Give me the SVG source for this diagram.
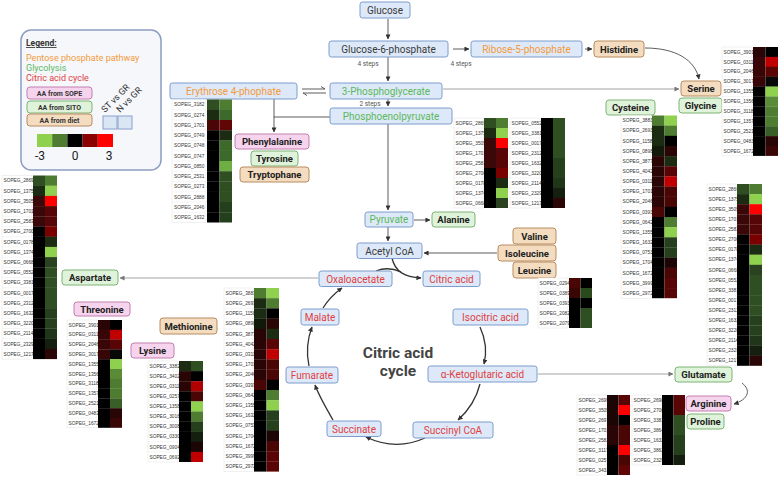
<svg xmlns="http://www.w3.org/2000/svg" width="778" height="477" viewBox="0 0 778 477">
<defs>
<marker id="ah" viewBox="0 0 6 6" refX="5.5" refY="3" markerUnits="userSpaceOnUse" markerWidth="5" markerHeight="5" orient="auto"><path d="M0,0 L6,3 L0,6 Z" fill="#333"/></marker>
<marker id="ahg" viewBox="0 0 6 6" refX="5.5" refY="3" markerUnits="userSpaceOnUse" markerWidth="5" markerHeight="5" orient="auto"><path d="M0,0 L6,3 L0,6 Z" fill="#777"/></marker>
</defs>
<style>
.n{fill:#dde9f8;stroke:#7d9ccc;stroke-width:1}
.t{font-family:Roboto,"Liberation Sans",sans-serif;font-size:10px;text-anchor:middle}
.dk{fill:#3a3a3a}.gl{fill:#5cb85c}.pp{fill:#f39a3c}.ca{fill:#e0403f}
.ap{fill:#f7d4ee;stroke:#c27fb0;stroke-width:1}
.ag{fill:#dff2da;stroke:#7fb475;stroke-width:1}
.ad{fill:#f3dcc0;stroke:#b98c5e;stroke-width:1}
.ab{font-family:Roboto,"Liberation Sans",sans-serif;font-weight:bold;font-size:9.5px;fill:#222;text-anchor:middle}
.hm text{font-family:"Liberation Sans",Arial,sans-serif;font-size:4.8px;fill:#333}
.lc{fill:#fff;stroke:#e2e2e2;stroke-width:0.5}
.gd{fill:none;stroke:#e6e6e6;stroke-width:0.4}
.c{fill:none;stroke:#333;stroke-width:0.8}
.cg{fill:none;stroke:#999;stroke-width:0.9}
.cy{fill:none;stroke:#333;stroke-width:1.3}
.st{font-family:Roboto,"Liberation Sans",sans-serif;font-size:6.5px;fill:#555;text-anchor:middle}
.lg{font-family:Roboto,"Liberation Sans",sans-serif;font-size:9px}
.pl{font-family:Roboto,"Liberation Sans",sans-serif;font-size:7px;font-weight:bold;fill:#333;text-anchor:middle}
.sc{font-family:Roboto,"Liberation Sans",sans-serif;font-size:12px;fill:#222;text-anchor:middle}
</style>
<rect width="778" height="477" fill="#fff"/>

<!-- Legend -->
<g id="legend">
<rect x="21" y="30" width="140" height="140" rx="10" fill="#f5f7fb" stroke="#8b9dc3" stroke-width="1.5"/>
<text x="26" y="46" class="lg" style="font-weight:bold;font-size:8.5px;text-decoration:underline" fill="#333">Legend:</text>
<text x="26" y="61" class="lg pp">Pentose phosphate pathway</text>
<text x="26" y="71" class="lg gl">Glycolysis</text>
<text x="26" y="81" class="lg ca">Citric acid cycle</text>
<rect x="27" y="87" width="65" height="12" rx="3" class="ap"/><text x="59.5" y="95.5" class="pl">AA from SOPE</text>
<rect x="27" y="101" width="65" height="12" rx="3" class="ag"/><text x="59.5" y="109.5" class="pl">AA from SITO</text>
<rect x="27" y="114" width="65" height="12" rx="3" class="ad"/><text x="59.5" y="122.5" class="pl">AA from diet</text>
<text transform="translate(105,113) rotate(-45)" class="lg" fill="#333">ST vs GR</text>
<text transform="translate(120,113) rotate(-45)" class="lg" fill="#333">N vs GR</text>
<rect x="103" y="116" width="14" height="13" fill="#dbe6f5" stroke="#8aa0cc" stroke-width="1"/>
<rect x="118" y="116" width="14" height="13" fill="#dbe6f5" stroke="#8aa0cc" stroke-width="1"/>
<rect x="37" y="134" width="15.2" height="13" fill="#8fd14f"/>
<rect x="52.2" y="134" width="15.2" height="13" fill="#4e7d32"/>
<rect x="67.4" y="134" width="15.2" height="13" fill="#000"/>
<rect x="82.6" y="134" width="15.2" height="13" fill="#8b0000"/>
<rect x="97.8" y="134" width="15.2" height="13" fill="#ff0000"/>
<text x="40" y="160" class="sc">-3</text>
<text x="75" y="160" class="sc">0</text>
<text x="109" y="160" class="sc">3</text>
</g>

<!-- Connectors -->
<g id="connectors">
<path class="c" d="M388,19 V39" marker-end="url(#ah)"/>
<path class="c" d="M388,57 V81" marker-end="url(#ah)"/>
<path class="c" d="M453,49 H469" marker-end="url(#ah)"/>
<path class="c" d="M585,49 H592" marker-end="url(#ah)"/>
<path class="c" d="M645,48 C676,48 695,60 699,79" stroke="#666" marker-end="url(#ah)"/>
<path class="c" d="M302,89 H325 M321,86.5 L325,89"/>
<path class="c" d="M326,93 H303 M307,95.5 L303,93"/>
<path class="cg" d="M443,89 H679" marker-end="url(#ahg)"/>
<path class="c" d="M388,99 V106" marker-end="url(#ah)"/>
<path class="c" d="M330,117 H274 V132" marker-end="url(#ah)"/>
<path class="c" d="M274,99 V117"/>
<path class="c" d="M388,124 V210" marker-end="url(#ah)"/>
<path class="c" d="M414,220 H430" marker-end="url(#ah)"/>
<path class="c" d="M388,227 V241" marker-end="url(#ah)"/>
<path class="c" d="M497,253 H424" stroke="#666" marker-end="url(#ah)"/>
<path class="cy" d="M392,258 C395,272 405,277 421,278" marker-end="url(#ah)"/>
<path class="cy" d="M376,271 Q388,266 401,272"/>
<path class="cg" d="M318,278 H120" stroke="#bbb" marker-end="url(#ahg)"/>
<path class="cy" d="M480,327 C486,340 487,352 484,364" marker-end="url(#ah)"/>
<path class="cy" d="M480,384 C476,400 468,411 458,420" marker-end="url(#ah)"/>
<path class="cy" d="M425,438 C405,447 385,446 366,437" marker-end="url(#ah)"/>
<path class="cy" d="M333,420 C325,406 319,396 315,385" marker-end="url(#ah)"/>
<path class="cy" d="M309,366 C306,352 307,340 312,327" marker-end="url(#ah)"/>
<path class="cy" d="M323,308 C328,300 335,293 342,288" marker-end="url(#ah)"/>
<path class="cg" d="M538,374 H673" stroke="#aaa" marker-end="url(#ahg)"/>
<path class="c" d="M742,383 C751,390 749,399 734,404" marker-end="url(#ah)"/>
</g>
<text x="368" y="66" class="st">4 steps</text>
<text x="461" y="66" class="st">4 steps</text>
<text x="370" y="106" class="st">2 steps</text>

<!-- Pathway nodes -->
<g id="glucose"><rect x="360" y="2" width="50" height="16" rx="2.5" class="n"/><text x="385" y="13.5" class="t dk">Glucose</text></g>
<g id="g6p"><rect x="329" y="41" width="119" height="16" rx="2.5" class="n"/><text x="388.5" y="52.5" class="t dk">Glucose-6-phosphate</text></g>
<g id="r5p"><rect x="471" y="41" width="111" height="16" rx="2.5" class="n"/><text x="526.5" y="52.5" class="t pp">Ribose-5-phosphate</text></g>
<g id="e4p"><rect x="170" y="83" width="127" height="16" rx="2.5" class="n"/><text x="233.5" y="94.5" class="t pp">Erythrose 4-phophate</text></g>
<g id="pg3"><rect x="330" y="83" width="112" height="16" rx="2.5" class="n"/><text x="386" y="94.5" class="t gl">3-Phosphoglycerate</text></g>
<g id="pep"><rect x="330" y="108" width="122" height="16" rx="2.5" class="n"/><text x="391" y="119.5" class="t gl">Phosphoenolpyruvate</text></g>
<g id="pyruvate"><rect x="365" y="212" width="48" height="15" rx="2.5" class="n"/><text x="389" y="223" class="t gl">Pyruvate</text></g>
<g id="acetylcoa"><rect x="357" y="243" width="65" height="15.5" rx="2.5" class="n"/><text x="389.5" y="254.5" class="t dk">Acetyl CoA</text></g>
<g id="oxaloacetate"><rect x="319" y="271" width="73" height="15.5" rx="2.5" class="n"/><text x="355.5" y="282.5" class="t ca">Oxaloacetate</text></g>
<g id="citric"><rect x="423" y="271" width="57" height="15.5" rx="2.5" class="n"/><text x="451.5" y="282.5" class="t ca">Citric acid</text></g>
<g id="malate"><rect x="301" y="309" width="38" height="16" rx="2.5" class="n"/><text x="320" y="320.5" class="t ca">Malate</text></g>
<g id="isocitric"><rect x="453" y="309" width="75" height="16" rx="2.5" class="n"/><text x="490.5" y="320.5" class="t ca">Isocitric acid</text></g>
<g id="fumarate"><rect x="286" y="367" width="52" height="16" rx="2.5" class="n"/><text x="312" y="378.5" class="t ca">Fumarate</text></g>
<g id="akg"><rect x="428" y="366" width="109" height="16" rx="2.5" class="n"/><text x="482.5" y="377.5" class="t ca">α-Ketoglutaric acid</text></g>
<g id="succinate"><rect x="327" y="421" width="54" height="15.5" rx="2.5" class="n"/><text x="354" y="432.5" class="t ca">Succinate</text></g>
<g id="succinylcoa"><rect x="413" y="422" width="80" height="16" rx="2.5" class="n"/><text x="453" y="433.5" class="t ca">Succinyl CoA</text></g>
<g id="cycle-label"><text x="398" y="358" class="t" style="font-weight:bold;font-size:15.5px;fill:#444">Citric acid</text><text x="398" y="376" class="t" style="font-weight:bold;font-size:15.5px;fill:#444">cycle</text></g>

<!-- Amino acid nodes -->
<g id="histidine"><rect x="594" y="41" width="50" height="16" rx="3" class="ad"/><text x="619" y="52.5" class="ab">Histidine</text></g>
<g id="serine"><rect x="681" y="81" width="40" height="15" rx="3" class="ad"/><text x="701" y="92" class="ab">Serine</text></g>
<g id="glycine"><rect x="679" y="98" width="43" height="15" rx="3" class="ag"/><text x="700.5" y="109" class="ab">Glycine</text></g>
<g id="cysteine"><rect x="606" y="100" width="49" height="15" rx="3" class="ag"/><text x="630.5" y="111" class="ab">Cysteine</text></g>
<g id="phenylalanine"><rect x="235" y="134" width="74" height="15" rx="3" class="ap"/><text x="272" y="145" class="ab">Phenylalanine</text></g>
<g id="tyrosine"><rect x="251" y="151" width="47" height="15" rx="3" class="ag"/><text x="274.5" y="162" class="ab">Tyrosine</text></g>
<g id="tryptophane"><rect x="240" y="167" width="69" height="15" rx="3" class="ad"/><text x="274.5" y="178" class="ab">Tryptophane</text></g>
<g id="alanine"><rect x="432" y="212" width="43" height="15" rx="3" class="ag"/><text x="453.5" y="223" class="ab">Alanine</text></g>
<g id="valine"><rect x="513" y="228" width="43" height="16" rx="3" class="ad"/><text x="534.5" y="239.5" class="ab">Valine</text></g>
<g id="isoleucine"><rect x="498" y="245" width="58" height="16" rx="3" class="ad"/><text x="527" y="256.5" class="ab">Isoleucine</text></g>
<g id="leucine"><rect x="513" y="262" width="43" height="16" rx="3" class="ad"/><text x="534.5" y="273.5" class="ab">Leucine</text></g>
<g id="aspartate"><rect x="62" y="270" width="56" height="15" rx="3" class="ag"/><text x="90" y="281" class="ab">Aspartate</text></g>
<g id="threonine"><rect x="74" y="302" width="56" height="14" rx="3" class="ap"/><text x="102" y="312.5" class="ab">Threonine</text></g>
<g id="methionine"><rect x="160" y="318" width="57" height="16" rx="3" class="ad"/><text x="188.5" y="329.5" class="ab">Methionine</text></g>
<g id="lysine"><rect x="131" y="343" width="43" height="15" rx="3" class="ap"/><text x="152.5" y="354" class="ab">Lysine</text></g>
<g id="glutamate"><rect x="675" y="367" width="57" height="15" rx="3" class="ag"/><text x="703.5" y="378" class="ab">Glutamate</text></g>
<g id="arginine"><rect x="686" y="396" width="45" height="15" rx="3" class="ap"/><text x="708.5" y="407" class="ab">Arginine</text></g>
<g id="proline"><rect x="687" y="414" width="37" height="15" rx="3" class="ag"/><text x="705.5" y="425" class="ab">Proline</text></g>

<!-- Heatmaps -->
<g id="hm-erythrose" class="hm" transform="translate(172,99.5) scale(1,1.025)">
<rect class="lc" x="0" y="0" width="34" height="120"/>
<path class="gd" d="M0,10H34M0,20H34M0,30H34M0,40H34M0,50H34M0,60H34M0,70H34M0,80H34M0,90H34M0,100H34M0,110H34"/>
<text x="2" y="6.7">SOPEG_3182</text><rect x="35" y="0" width="12.5" height="10.2" fill="#2f4f22"/><rect x="47.5" y="0" width="12.5" height="10.2" fill="#4e7d32"/>
<text x="2" y="16.7">SOPEG_0274</text><rect x="35" y="10" width="12.5" height="10.2" fill="#1c2c12"/><rect x="47.5" y="10" width="12.5" height="10.2" fill="#3d6a2a"/>
<text x="2" y="26.7">SOPEG_1701</text><rect x="35" y="20" width="12.5" height="10.2" fill="#4a0606"/><rect x="47.5" y="20" width="12.5" height="10.2" fill="#600606"/>
<text x="2" y="36.7">SOPEG_0749</text><rect x="35" y="30" width="12.5" height="10.2" fill="#000"/><rect x="47.5" y="30" width="12.5" height="10.2" fill="#1c2c12"/>
<text x="2" y="46.7">SOPEG_0748</text><rect x="35" y="40" width="12.5" height="10.2" fill="#000"/><rect x="47.5" y="40" width="12.5" height="10.2" fill="#3d6a2a"/>
<text x="2" y="56.7">SOPEG_0747</text><rect x="35" y="50" width="12.5" height="10.2" fill="#000"/><rect x="47.5" y="50" width="12.5" height="10.2" fill="#3d6a2a"/>
<text x="2" y="66.7">SOPEG_0850</text><rect x="35" y="60" width="12.5" height="10.2" fill="#000"/><rect x="47.5" y="60" width="12.5" height="10.2" fill="#6fae44"/>
<text x="2" y="76.7">SOPEG_2531</text><rect x="35" y="70" width="12.5" height="10.2" fill="#000"/><rect x="47.5" y="70" width="12.5" height="10.2" fill="#2f4f22"/>
<text x="2" y="86.7">SOPEG_0273</text><rect x="35" y="80" width="12.5" height="10.2" fill="#000"/><rect x="47.5" y="80" width="12.5" height="10.2" fill="#2f4f22"/>
<text x="2" y="96.7">SOPEG_2888</text><rect x="35" y="90" width="12.5" height="10.2" fill="#000"/><rect x="47.5" y="90" width="12.5" height="10.2" fill="#2f4f22"/>
<text x="2" y="106.7">SOPEG_2046</text><rect x="35" y="100" width="12.5" height="10.2" fill="#000"/><rect x="47.5" y="100" width="12.5" height="10.2" fill="#243f1c"/>
<text x="2" y="116.7">SOPEG_1632</text><rect x="35" y="110" width="12.5" height="10" fill="#000"/><rect x="47.5" y="110" width="12.5" height="10" fill="#243f1c"/>
</g>

<g id="hm-pep-a" class="hm" transform="translate(454,118)">
<rect class="lc" x="0" y="0" width="29" height="90"/>
<path class="gd" d="M0,10H29M0,20H29M0,30H29M0,40H29M0,50H29M0,60H29M0,70H29M0,80H29"/>
<text x="1.5" y="6.7">SOPEG_2869</text><rect x="30" y="0" width="12" height="10.2" fill="#2f4f22"/><rect x="42" y="0" width="12" height="10.2" fill="#4e7d32"/>
<text x="1.5" y="16.7">SOPEG_1375</text><rect x="30" y="10" width="12" height="10.2" fill="#1c2c12"/><rect x="42" y="10" width="12" height="10.2" fill="#8fd14f"/>
<text x="1.5" y="26.7">SOPEG_3505</text><rect x="30" y="20" width="12" height="10.2" fill="#3a0808"/><rect x="42" y="20" width="12" height="10.2" fill="#ff0000"/>
<text x="1.5" y="36.7">SOPEG_1701</text><rect x="30" y="30" width="12" height="10.2" fill="#3a0808"/><rect x="42" y="30" width="12" height="10.2" fill="#560606"/>
<text x="1.5" y="46.7">SOPEG_2583</text><rect x="30" y="40" width="12" height="10.2" fill="#3a0808"/><rect x="42" y="40" width="12" height="10.2" fill="#560606"/>
<text x="1.5" y="56.7">SOPEG_2700</text><rect x="30" y="50" width="12" height="10.2" fill="#000"/><rect x="42" y="50" width="12" height="10.2" fill="#7a0000"/>
<text x="1.5" y="66.7">SOPEG_0178</text><rect x="30" y="60" width="12" height="10.2" fill="#000"/><rect x="42" y="60" width="12" height="10.2" fill="#1c2c12"/>
<text x="1.5" y="76.7">SOPEG_1374</text><rect x="30" y="70" width="12" height="10.2" fill="#000"/><rect x="42" y="70" width="12" height="10.2" fill="#8fd14f"/>
<text x="1.5" y="86.7">SOPEG_0668</text><rect x="30" y="80" width="12" height="10" fill="#000"/><rect x="42" y="80" width="12" height="10" fill="#2a4220"/>
</g>
<g id="hm-pep-b" class="hm" transform="translate(510,118)">
<rect class="lc" x="0" y="0" width="30" height="90"/>
<path class="gd" d="M0,10H30M0,20H30M0,30H30M0,40H30M0,50H30M0,60H30M0,70H30M0,80H30"/>
<text x="1.5" y="6.7">SOPEG_0552</text><rect x="31" y="0" width="12" height="10.2" fill="#000"/><rect x="43" y="0" width="12" height="10.2" fill="#2f4f22"/>
<text x="1.5" y="16.7">SOPEG_3381</text><rect x="31" y="10" width="12" height="10.2" fill="#000"/><rect x="43" y="10" width="12" height="10.2" fill="#2f4f22"/>
<text x="1.5" y="26.7">SOPEG_0017</text><rect x="31" y="20" width="12" height="10.2" fill="#000"/><rect x="43" y="20" width="12" height="10.2" fill="#2f4f22"/>
<text x="1.5" y="36.7">SOPEG_2312</text><rect x="31" y="30" width="12" height="10.2" fill="#000"/><rect x="43" y="30" width="12" height="10.2" fill="#2f4f22"/>
<text x="1.5" y="46.7">SOPEG_1632</text><rect x="31" y="40" width="12" height="10.2" fill="#000"/><rect x="43" y="40" width="12" height="10.2" fill="#263f1d"/>
<text x="1.5" y="56.7">SOPEG_3220</text><rect x="31" y="50" width="12" height="10.2" fill="#000"/><rect x="43" y="50" width="12" height="10.2" fill="#263f1d"/>
<text x="1.5" y="66.7">SOPEG_2114</text><rect x="31" y="60" width="12" height="10.2" fill="#000"/><rect x="43" y="60" width="12" height="10.2" fill="#203618"/>
<text x="1.5" y="76.7">SOPEG_2329</text><rect x="31" y="70" width="12" height="10.2" fill="#000"/><rect x="43" y="70" width="12" height="10.2" fill="#151f10"/>
<text x="1.5" y="86.7">SOPEG_1217</text><rect x="31" y="80" width="12" height="10" fill="#000"/><rect x="43" y="80" width="12" height="10" fill="#2a0606"/>
</g>

<g id="hm-serine" class="hm" transform="translate(722,47) scale(1,0.99)">
<rect class="lc" x="0" y="0" width="30" height="110"/>
<path class="gd" d="M0,10H30M0,20H30M0,30H30M0,40H30M0,50H30M0,60H30M0,70H30M0,80H30M0,90H30M0,100H30"/>
<text x="1.5" y="6.7">SOPEG_3901</text><rect x="31" y="0" width="12.5" height="10.2" fill="#2a0505"/><rect x="43.5" y="0" width="12.5" height="10.2" fill="#000"/>
<text x="1.5" y="16.7">SOPEG_0311</text><rect x="31" y="10" width="12.5" height="10.2" fill="#380606"/><rect x="43.5" y="10" width="12.5" height="10.2" fill="#c00000"/>
<text x="1.5" y="26.7">SOPEG_2046</text><rect x="31" y="20" width="12.5" height="10.2" fill="#380606"/><rect x="43.5" y="20" width="12.5" height="10.2" fill="#5a0505"/>
<text x="1.5" y="36.7">SOPEG_3017</text><rect x="31" y="30" width="12.5" height="10.2" fill="#380606"/><rect x="43.5" y="30" width="12.5" height="10.2" fill="#080808"/>
<text x="1.5" y="46.7">SOPEG_1355</text><rect x="31" y="40" width="12.5" height="10.2" fill="#000"/><rect x="43.5" y="40" width="12.5" height="10.2" fill="#8fd14f"/>
<text x="1.5" y="56.7">SOPEG_1356</text><rect x="31" y="50" width="12.5" height="10.2" fill="#000"/><rect x="43.5" y="50" width="12.5" height="10.2" fill="#5a8c38"/>
<text x="1.5" y="66.7">SOPEG_3118</text><rect x="31" y="60" width="12.5" height="10.2" fill="#000"/><rect x="43.5" y="60" width="12.5" height="10.2" fill="#4e7d32"/>
<text x="1.5" y="76.7">SOPEG_1357</text><rect x="31" y="70" width="12.5" height="10.2" fill="#000"/><rect x="43.5" y="70" width="12.5" height="10.2" fill="#4e7d32"/>
<text x="1.5" y="86.7">SOPEG_2521</text><rect x="31" y="80" width="12.5" height="10.2" fill="#000"/><rect x="43.5" y="80" width="12.5" height="10.2" fill="#3a5e28"/>
<text x="1.5" y="96.7">SOPEG_0483</text><rect x="31" y="90" width="12.5" height="10.2" fill="#000"/><rect x="43.5" y="90" width="12.5" height="10.2" fill="#2a0505"/>
<text x="1.5" y="106.7">SOPEG_1672</text><rect x="31" y="100" width="12.5" height="10" fill="#000"/><rect x="43.5" y="100" width="12.5" height="10" fill="#3a0505"/>
</g>

<g id="hm-threonine" class="hm" transform="translate(67,320) scale(1,0.98)">
<rect class="lc" x="0" y="0" width="30" height="110"/>
<path class="gd" d="M0,10H30M0,20H30M0,30H30M0,40H30M0,50H30M0,60H30M0,70H30M0,80H30M0,90H30M0,100H30"/>
<text x="1.5" y="6.7">SOPEG_3901</text><rect x="31" y="0" width="12" height="10.2" fill="#2a0505"/><rect x="43" y="0" width="12" height="10.2" fill="#000"/>
<text x="1.5" y="16.7">SOPEG_0311</text><rect x="31" y="10" width="12" height="10.2" fill="#380606"/><rect x="43" y="10" width="12" height="10.2" fill="#c00000"/>
<text x="1.5" y="26.7">SOPEG_2046</text><rect x="31" y="20" width="12" height="10.2" fill="#380606"/><rect x="43" y="20" width="12" height="10.2" fill="#5a0505"/>
<text x="1.5" y="36.7">SOPEG_3017</text><rect x="31" y="30" width="12" height="10.2" fill="#380606"/><rect x="43" y="30" width="12" height="10.2" fill="#080808"/>
<text x="1.5" y="46.7">SOPEG_1355</text><rect x="31" y="40" width="12" height="10.2" fill="#000"/><rect x="43" y="40" width="12" height="10.2" fill="#8fd14f"/>
<text x="1.5" y="56.7">SOPEG_1356</text><rect x="31" y="50" width="12" height="10.2" fill="#000"/><rect x="43" y="50" width="12" height="10.2" fill="#5a8c38"/>
<text x="1.5" y="66.7">SOPEG_3118</text><rect x="31" y="60" width="12" height="10.2" fill="#000"/><rect x="43" y="60" width="12" height="10.2" fill="#4e7d32"/>
<text x="1.5" y="76.7">SOPEG_1357</text><rect x="31" y="70" width="12" height="10.2" fill="#000"/><rect x="43" y="70" width="12" height="10.2" fill="#4e7d32"/>
<text x="1.5" y="86.7">SOPEG_2521</text><rect x="31" y="80" width="12" height="10.2" fill="#000"/><rect x="43" y="80" width="12" height="10.2" fill="#3a5e28"/>
<text x="1.5" y="96.7">SOPEG_0483</text><rect x="31" y="90" width="12" height="10.2" fill="#000"/><rect x="43" y="90" width="12" height="10.2" fill="#2a0505"/>
<text x="1.5" y="106.7">SOPEG_1672</text><rect x="31" y="100" width="12" height="10" fill="#000"/><rect x="43" y="100" width="12" height="10" fill="#3a0505"/>
</g>

<g id="hm-cysteine" class="hm" transform="translate(621,115.5) scale(1,1.015)">
<rect class="lc" x="0" y="0" width="30" height="180"/>
<path class="gd" d="M0,10H30M0,20H30M0,30H30M0,40H30M0,50H30M0,60H30M0,70H30M0,80H30M0,90H30M0,100H30M0,110H30M0,120H30M0,130H30M0,140H30M0,150H30M0,160H30M0,170H30"/>
<text x="1.5" y="6.7">SOPEG_3883</text><rect x="31" y="0" width="12.5" height="10.2" fill="#4e7d32"/><rect x="43.5" y="0" width="12.5" height="10.2" fill="#8fd14f"/>
<text x="1.5" y="16.7">SOPEG_2693</text><rect x="31" y="10" width="12.5" height="10.2" fill="#1c2c12"/><rect x="43.5" y="10" width="12.5" height="10.2" fill="#4e7d32"/>
<text x="1.5" y="26.7">SOPEG_1158</text><rect x="31" y="20" width="12.5" height="10.2" fill="#1c2c12"/><rect x="43.5" y="20" width="12.5" height="10.2" fill="#000"/>
<text x="1.5" y="36.7">SOPEG_0898</text><rect x="31" y="30" width="12.5" height="10.2" fill="#111a0a"/><rect x="43.5" y="30" width="12.5" height="10.2" fill="#2a0505"/>
<text x="1.5" y="46.7">SOPEG_3877</text><rect x="31" y="40" width="12.5" height="10.2" fill="#2a0505"/><rect x="43.5" y="40" width="12.5" height="10.2" fill="#1c2c12"/>
<text x="1.5" y="56.7">SOPEG_4042</text><rect x="31" y="50" width="12.5" height="10.2" fill="#2a0505"/><rect x="43.5" y="50" width="12.5" height="10.2" fill="#5a0505"/>
<text x="1.5" y="66.7">SOPEG_0311</text><rect x="31" y="60" width="12.5" height="10.2" fill="#2a0505"/><rect x="43.5" y="60" width="12.5" height="10.2" fill="#c00000"/>
<text x="1.5" y="76.7">SOPEG_1701</text><rect x="31" y="70" width="12.5" height="10.2" fill="#2a0505"/><rect x="43.5" y="70" width="12.5" height="10.2" fill="#4a0505"/>
<text x="1.5" y="86.7">SOPEG_2046</text><rect x="31" y="80" width="12.5" height="10.2" fill="#2a0505"/><rect x="43.5" y="80" width="12.5" height="10.2" fill="#4a0505"/>
<text x="1.5" y="96.7">SOPEG_0393</text><rect x="31" y="90" width="12.5" height="10.2" fill="#4a0505"/><rect x="43.5" y="90" width="12.5" height="10.2" fill="#000"/>
<text x="1.5" y="106.7">SOPEG_0642</text><rect x="31" y="100" width="12.5" height="10.2" fill="#000"/><rect x="43.5" y="100" width="12.5" height="10.2" fill="#4e7d32"/>
<text x="1.5" y="116.7">SOPEG_1355</text><rect x="31" y="110" width="12.5" height="10.2" fill="#000"/><rect x="43.5" y="110" width="12.5" height="10.2" fill="#8fd14f"/>
<text x="1.5" y="126.7">SOPEG_1632</text><rect x="31" y="120" width="12.5" height="10.2" fill="#000"/><rect x="43.5" y="120" width="12.5" height="10.2" fill="#263f1d"/>
<text x="1.5" y="136.7">SOPEG_0753</text><rect x="31" y="130" width="12.5" height="10.2" fill="#000"/><rect x="43.5" y="130" width="12.5" height="10.2" fill="#263f1d"/>
<text x="1.5" y="146.7">SOPEG_1704</text><rect x="31" y="140" width="12.5" height="10.2" fill="#000"/><rect x="43.5" y="140" width="12.5" height="10.2" fill="#1c0505"/>
<text x="1.5" y="156.7">SOPEG_1672</text><rect x="31" y="150" width="12.5" height="10.2" fill="#000"/><rect x="43.5" y="150" width="12.5" height="10.2" fill="#4a0505"/>
<text x="1.5" y="166.7">SOPEG_3999</text><rect x="31" y="160" width="12.5" height="10.2" fill="#000"/><rect x="43.5" y="160" width="12.5" height="10.2" fill="#5a0505"/>
<text x="1.5" y="176.7">SOPEG_2972</text><rect x="31" y="170" width="12.5" height="10" fill="#000"/><rect x="43.5" y="170" width="12.5" height="10" fill="#5a0505"/>
</g>

<g id="hm-methionine" class="hm" transform="translate(224,288) scale(1,1.02)">
<rect class="lc" x="0" y="0" width="29" height="180"/>
<path class="gd" d="M0,10H29M0,20H29M0,30H29M0,40H29M0,50H29M0,60H29M0,70H29M0,80H29M0,90H29M0,100H29M0,110H29M0,120H29M0,130H29M0,140H29M0,150H29M0,160H29M0,170H29"/>
<text x="1.5" y="6.7">SOPEG_3883</text><rect x="30" y="0" width="12.5" height="10.2" fill="#4e7d32"/><rect x="42.5" y="0" width="12.5" height="10.2" fill="#8fd14f"/>
<text x="1.5" y="16.7">SOPEG_2693</text><rect x="30" y="10" width="12.5" height="10.2" fill="#1c2c12"/><rect x="42.5" y="10" width="12.5" height="10.2" fill="#4e7d32"/>
<text x="1.5" y="26.7">SOPEG_1158</text><rect x="30" y="20" width="12.5" height="10.2" fill="#1c2c12"/><rect x="42.5" y="20" width="12.5" height="10.2" fill="#000"/>
<text x="1.5" y="36.7">SOPEG_0898</text><rect x="30" y="30" width="12.5" height="10.2" fill="#111a0a"/><rect x="42.5" y="30" width="12.5" height="10.2" fill="#2a0505"/>
<text x="1.5" y="46.7">SOPEG_3877</text><rect x="30" y="40" width="12.5" height="10.2" fill="#2a0505"/><rect x="42.5" y="40" width="12.5" height="10.2" fill="#1c2c12"/>
<text x="1.5" y="56.7">SOPEG_4042</text><rect x="30" y="50" width="12.5" height="10.2" fill="#2a0505"/><rect x="42.5" y="50" width="12.5" height="10.2" fill="#5a0505"/>
<text x="1.5" y="66.7">SOPEG_0311</text><rect x="30" y="60" width="12.5" height="10.2" fill="#2a0505"/><rect x="42.5" y="60" width="12.5" height="10.2" fill="#c00000"/>
<text x="1.5" y="76.7">SOPEG_1701</text><rect x="30" y="70" width="12.5" height="10.2" fill="#2a0505"/><rect x="42.5" y="70" width="12.5" height="10.2" fill="#4a0505"/>
<text x="1.5" y="86.7">SOPEG_2046</text><rect x="30" y="80" width="12.5" height="10.2" fill="#2a0505"/><rect x="42.5" y="80" width="12.5" height="10.2" fill="#4a0505"/>
<text x="1.5" y="96.7">SOPEG_0393</text><rect x="30" y="90" width="12.5" height="10.2" fill="#4a0505"/><rect x="42.5" y="90" width="12.5" height="10.2" fill="#000"/>
<text x="1.5" y="106.7">SOPEG_0642</text><rect x="30" y="100" width="12.5" height="10.2" fill="#000"/><rect x="42.5" y="100" width="12.5" height="10.2" fill="#4e7d32"/>
<text x="1.5" y="116.7">SOPEG_1355</text><rect x="30" y="110" width="12.5" height="10.2" fill="#000"/><rect x="42.5" y="110" width="12.5" height="10.2" fill="#8fd14f"/>
<text x="1.5" y="126.7">SOPEG_1632</text><rect x="30" y="120" width="12.5" height="10.2" fill="#000"/><rect x="42.5" y="120" width="12.5" height="10.2" fill="#263f1d"/>
<text x="1.5" y="136.7">SOPEG_0753</text><rect x="30" y="130" width="12.5" height="10.2" fill="#000"/><rect x="42.5" y="130" width="12.5" height="10.2" fill="#263f1d"/>
<text x="1.5" y="146.7">SOPEG_1704</text><rect x="30" y="140" width="12.5" height="10.2" fill="#000"/><rect x="42.5" y="140" width="12.5" height="10.2" fill="#1c0505"/>
<text x="1.5" y="156.7">SOPEG_1672</text><rect x="30" y="150" width="12.5" height="10.2" fill="#000"/><rect x="42.5" y="150" width="12.5" height="10.2" fill="#4a0505"/>
<text x="1.5" y="166.7">SOPEG_3999</text><rect x="30" y="160" width="12.5" height="10.2" fill="#000"/><rect x="42.5" y="160" width="12.5" height="10.2" fill="#5a0505"/>
<text x="1.5" y="176.7">SOPEG_2972</text><rect x="30" y="170" width="12.5" height="10" fill="#000"/><rect x="42.5" y="170" width="12.5" height="10" fill="#5a0505"/>
</g>

<g id="hm-lysine" class="hm" transform="translate(148,361) scale(1,1.01)">
<rect class="lc" x="0" y="0" width="30" height="100"/>
<path class="gd" d="M0,10H30M0,20H30M0,30H30M0,40H30M0,50H30M0,60H30M0,70H30M0,80H30M0,90H30"/>
<text x="1.5" y="6.7">SOPEG_3382</text><rect x="31" y="0" width="12" height="10.2" fill="#1c2c12"/><rect x="43" y="0" width="12" height="10.2" fill="#2f4f22"/>
<text x="1.5" y="16.7">SOPEG_3402</text><rect x="31" y="10" width="12" height="10.2" fill="#2a0505"/><rect x="43" y="10" width="12" height="10.2" fill="#000"/>
<text x="1.5" y="26.7">SOPEG_0311</text><rect x="31" y="20" width="12" height="10.2" fill="#2a0505"/><rect x="43" y="20" width="12" height="10.2" fill="#b00000"/>
<text x="1.5" y="36.7">SOPEG_0257</text><rect x="31" y="30" width="12" height="10.2" fill="#000"/><rect x="43" y="30" width="12" height="10.2" fill="#4a0505"/>
<text x="1.5" y="46.7">SOPEG_1358</text><rect x="31" y="40" width="12" height="10.2" fill="#000"/><rect x="43" y="40" width="12" height="10.2" fill="#8fd14f"/>
<text x="1.5" y="56.7">SOPEG_3016</text><rect x="31" y="50" width="12" height="10.2" fill="#000"/><rect x="43" y="50" width="12" height="10.2" fill="#4e7d32"/>
<text x="1.5" y="66.7">SOPEG_3008</text><rect x="31" y="60" width="12" height="10.2" fill="#000"/><rect x="43" y="60" width="12" height="10.2" fill="#263f1d"/>
<text x="1.5" y="76.7">SOPEG_0330</text><rect x="31" y="70" width="12" height="10.2" fill="#000"/><rect x="43" y="70" width="12" height="10.2" fill="#151f10"/>
<text x="1.5" y="86.7">SOPEG_0904</text><rect x="31" y="80" width="12" height="10.2" fill="#000"/><rect x="43" y="80" width="12" height="10.2" fill="#1c0505"/>
<text x="1.5" y="96.7">SOPEG_0692</text><rect x="31" y="90" width="12" height="10" fill="#000"/><rect x="43" y="90" width="12" height="10" fill="#c00000"/>
</g>

<g id="hm-leucine" class="hm" transform="translate(538,278)">
<rect class="lc" x="0" y="0" width="30" height="50"/>
<path class="gd" d="M0,10H30M0,20H30M0,30H30M0,40H30"/>
<text x="1.5" y="6.7">SOPEG_0294</text><rect x="31" y="0" width="11.5" height="10.2" fill="#4a0505"/><rect x="42.5" y="0" width="11.5" height="10.2" fill="#000"/>
<text x="1.5" y="16.7">SOPEG_0389</text><rect x="31" y="10" width="11.5" height="10.2" fill="#3a0505"/><rect x="42.5" y="10" width="11.5" height="10.2" fill="#2a4a1e"/>
<text x="1.5" y="26.7">SOPEG_0393</text><rect x="31" y="20" width="11.5" height="10.2" fill="#000"/><rect x="42.5" y="20" width="11.5" height="10.2" fill="#000"/>
<text x="1.5" y="36.7">SOPEG_2082</text><rect x="31" y="30" width="11.5" height="10.2" fill="#000"/><rect x="42.5" y="30" width="11.5" height="10.2" fill="#2f4f22"/>
<text x="1.5" y="46.7">SOPEG_2079</text><rect x="31" y="40" width="11.5" height="10" fill="#000"/><rect x="42.5" y="40" width="11.5" height="10" fill="#2f4f22"/>
</g>

<g id="hm-left" class="hm" transform="translate(2,175.5) scale(1,1.02)">
<rect class="lc" x="0" y="0" width="30" height="180"/>
<path class="gd" d="M0,10H30M0,20H30M0,30H30M0,40H30M0,50H30M0,60H30M0,70H30M0,80H30M0,90H30M0,100H30M0,110H30M0,120H30M0,130H30M0,140H30M0,150H30M0,160H30M0,170H30"/>
<text x="1.5" y="6.7">SOPEG_2869</text><rect x="31" y="0" width="12" height="10.2" fill="#2f4f22"/><rect x="43" y="0" width="12" height="10.2" fill="#4e7d32"/>
<text x="1.5" y="16.7">SOPEG_1375</text><rect x="31" y="10" width="12" height="10.2" fill="#1c2c12"/><rect x="43" y="10" width="12" height="10.2" fill="#8fd14f"/>
<text x="1.5" y="26.7">SOPEG_3505</text><rect x="31" y="20" width="12" height="10.2" fill="#3a0808"/><rect x="43" y="20" width="12" height="10.2" fill="#ff0000"/>
<text x="1.5" y="36.7">SOPEG_1701</text><rect x="31" y="30" width="12" height="10.2" fill="#3a0808"/><rect x="43" y="30" width="12" height="10.2" fill="#560606"/>
<text x="1.5" y="46.7">SOPEG_2583</text><rect x="31" y="40" width="12" height="10.2" fill="#3a0808"/><rect x="43" y="40" width="12" height="10.2" fill="#560606"/>
<text x="1.5" y="56.7">SOPEG_2700</text><rect x="31" y="50" width="12" height="10.2" fill="#000"/><rect x="43" y="50" width="12" height="10.2" fill="#7a0000"/>
<text x="1.5" y="66.7">SOPEG_0178</text><rect x="31" y="60" width="12" height="10.2" fill="#000"/><rect x="43" y="60" width="12" height="10.2" fill="#1c2c12"/>
<text x="1.5" y="76.7">SOPEG_1374</text><rect x="31" y="70" width="12" height="10.2" fill="#000"/><rect x="43" y="70" width="12" height="10.2" fill="#8fd14f"/>
<text x="1.5" y="86.7">SOPEG_0668</text><rect x="31" y="80" width="12" height="10.2" fill="#000"/><rect x="43" y="80" width="12" height="10.2" fill="#2a4220"/>
<text x="1.5" y="96.7">SOPEG_0552</text><rect x="31" y="90" width="12" height="10.2" fill="#000"/><rect x="43" y="90" width="12" height="10.2" fill="#2f4f22"/>
<text x="1.5" y="106.7">SOPEG_3381</text><rect x="31" y="100" width="12" height="10.2" fill="#000"/><rect x="43" y="100" width="12" height="10.2" fill="#2f4f22"/>
<text x="1.5" y="116.7">SOPEG_0017</text><rect x="31" y="110" width="12" height="10.2" fill="#000"/><rect x="43" y="110" width="12" height="10.2" fill="#2f4f22"/>
<text x="1.5" y="126.7">SOPEG_2312</text><rect x="31" y="120" width="12" height="10.2" fill="#000"/><rect x="43" y="120" width="12" height="10.2" fill="#2f4f22"/>
<text x="1.5" y="136.7">SOPEG_1632</text><rect x="31" y="130" width="12" height="10.2" fill="#000"/><rect x="43" y="130" width="12" height="10.2" fill="#263f1d"/>
<text x="1.5" y="146.7">SOPEG_3220</text><rect x="31" y="140" width="12" height="10.2" fill="#000"/><rect x="43" y="140" width="12" height="10.2" fill="#263f1d"/>
<text x="1.5" y="156.7">SOPEG_2114</text><rect x="31" y="150" width="12" height="10.2" fill="#000"/><rect x="43" y="150" width="12" height="10.2" fill="#203618"/>
<text x="1.5" y="166.7">SOPEG_2329</text><rect x="31" y="160" width="12" height="10.2" fill="#000"/><rect x="43" y="160" width="12" height="10.2" fill="#151f10"/>
<text x="1.5" y="176.7">SOPEG_1217</text><rect x="31" y="170" width="12" height="10" fill="#000"/><rect x="43" y="170" width="12" height="10" fill="#2a0606"/>
</g>

<g id="hm-right" class="hm" transform="translate(707,184) scale(1,1.01)">
<rect class="lc" x="0" y="0" width="29" height="180"/>
<path class="gd" d="M0,10H29M0,20H29M0,30H29M0,40H29M0,50H29M0,60H29M0,70H29M0,80H29M0,90H29M0,100H29M0,110H29M0,120H29M0,130H29M0,140H29M0,150H29M0,160H29M0,170H29"/>
<text x="1.5" y="6.7">SOPEG_2869</text><rect x="30" y="0" width="12.5" height="10.2" fill="#2f4f22"/><rect x="42.5" y="0" width="12.5" height="10.2" fill="#4e7d32"/>
<text x="1.5" y="16.7">SOPEG_1375</text><rect x="30" y="10" width="12.5" height="10.2" fill="#1c2c12"/><rect x="42.5" y="10" width="12.5" height="10.2" fill="#8fd14f"/>
<text x="1.5" y="26.7">SOPEG_3505</text><rect x="30" y="20" width="12.5" height="10.2" fill="#3a0808"/><rect x="42.5" y="20" width="12.5" height="10.2" fill="#ff0000"/>
<text x="1.5" y="36.7">SOPEG_1701</text><rect x="30" y="30" width="12.5" height="10.2" fill="#3a0808"/><rect x="42.5" y="30" width="12.5" height="10.2" fill="#560606"/>
<text x="1.5" y="46.7">SOPEG_2583</text><rect x="30" y="40" width="12.5" height="10.2" fill="#3a0808"/><rect x="42.5" y="40" width="12.5" height="10.2" fill="#560606"/>
<text x="1.5" y="56.7">SOPEG_2700</text><rect x="30" y="50" width="12.5" height="10.2" fill="#000"/><rect x="42.5" y="50" width="12.5" height="10.2" fill="#7a0000"/>
<text x="1.5" y="66.7">SOPEG_0178</text><rect x="30" y="60" width="12.5" height="10.2" fill="#000"/><rect x="42.5" y="60" width="12.5" height="10.2" fill="#1c2c12"/>
<text x="1.5" y="76.7">SOPEG_1374</text><rect x="30" y="70" width="12.5" height="10.2" fill="#000"/><rect x="42.5" y="70" width="12.5" height="10.2" fill="#8fd14f"/>
<text x="1.5" y="86.7">SOPEG_0668</text><rect x="30" y="80" width="12.5" height="10.2" fill="#000"/><rect x="42.5" y="80" width="12.5" height="10.2" fill="#2a4220"/>
<text x="1.5" y="96.7">SOPEG_0552</text><rect x="30" y="90" width="12.5" height="10.2" fill="#000"/><rect x="42.5" y="90" width="12.5" height="10.2" fill="#2f4f22"/>
<text x="1.5" y="106.7">SOPEG_3381</text><rect x="30" y="100" width="12.5" height="10.2" fill="#000"/><rect x="42.5" y="100" width="12.5" height="10.2" fill="#2f4f22"/>
<text x="1.5" y="116.7">SOPEG_0017</text><rect x="30" y="110" width="12.5" height="10.2" fill="#000"/><rect x="42.5" y="110" width="12.5" height="10.2" fill="#2f4f22"/>
<text x="1.5" y="126.7">SOPEG_2312</text><rect x="30" y="120" width="12.5" height="10.2" fill="#000"/><rect x="42.5" y="120" width="12.5" height="10.2" fill="#2f4f22"/>
<text x="1.5" y="136.7">SOPEG_1632</text><rect x="30" y="130" width="12.5" height="10.2" fill="#000"/><rect x="42.5" y="130" width="12.5" height="10.2" fill="#263f1d"/>
<text x="1.5" y="146.7">SOPEG_3220</text><rect x="30" y="140" width="12.5" height="10.2" fill="#000"/><rect x="42.5" y="140" width="12.5" height="10.2" fill="#263f1d"/>
<text x="1.5" y="156.7">SOPEG_2114</text><rect x="30" y="150" width="12.5" height="10.2" fill="#000"/><rect x="42.5" y="150" width="12.5" height="10.2" fill="#203618"/>
<text x="1.5" y="166.7">SOPEG_2329</text><rect x="30" y="160" width="12.5" height="10.2" fill="#000"/><rect x="42.5" y="160" width="12.5" height="10.2" fill="#151f10"/>
<text x="1.5" y="176.7">SOPEG_1217</text><rect x="30" y="170" width="12.5" height="10" fill="#000"/><rect x="42.5" y="170" width="12.5" height="10" fill="#2a0606"/>
</g>

<g id="hm-arg-a" class="hm" transform="translate(577,395)">
<rect class="lc" x="0" y="0" width="29" height="80"/>
<path class="gd" d="M0,10H29M0,20H29M0,30H29M0,40H29M0,50H29M0,60H29M0,70H29"/>
<text x="1.5" y="6.7">SOPEG_2699</text><rect x="30" y="0" width="11.5" height="10.2" fill="#1c0505"/><rect x="41.5" y="0" width="11.5" height="10.2" fill="#5a0505"/>
<text x="1.5" y="16.7">SOPEG_3505</text><rect x="30" y="10" width="11.5" height="10.2" fill="#1c0505"/><rect x="41.5" y="10" width="11.5" height="10.2" fill="#ff0000"/>
<text x="1.5" y="26.7">SOPEG_2697</text><rect x="30" y="20" width="11.5" height="10.2" fill="#1c0505"/><rect x="41.5" y="20" width="11.5" height="10.2" fill="#000"/>
<text x="1.5" y="36.7">SOPEG_1701</text><rect x="30" y="30" width="11.5" height="10.2" fill="#2a0505"/><rect x="41.5" y="30" width="11.5" height="10.2" fill="#4a0505"/>
<text x="1.5" y="46.7">SOPEG_2583</text><rect x="30" y="40" width="11.5" height="10.2" fill="#2a0505"/><rect x="41.5" y="40" width="11.5" height="10.2" fill="#4a0505"/>
<text x="1.5" y="56.7">SOPEG_3117</text><rect x="30" y="50" width="11.5" height="10.2" fill="#000"/><rect x="41.5" y="50" width="11.5" height="10.2" fill="#ff0000"/>
<text x="1.5" y="66.7">SOPEG_0257</text><rect x="30" y="60" width="11.5" height="10.2" fill="#000"/><rect x="41.5" y="60" width="11.5" height="10.2" fill="#4a0505"/>
<text x="1.5" y="76.7">SOPEG_3431</text><rect x="30" y="70" width="11.5" height="10" fill="#000"/><rect x="41.5" y="70" width="11.5" height="10" fill="#600505"/>
</g>
<g id="hm-arg-b" class="hm" transform="translate(632,395)">
<rect class="lc" x="0" y="0" width="29" height="70"/>
<path class="gd" d="M0,10H29M0,20H29M0,30H29M0,40H29M0,50H29M0,60H29"/>
<text x="1.5" y="6.7">SOPEG_2698</text><rect x="30" y="0" width="11.5" height="10.2" fill="#000"/><rect x="41.5" y="0" width="11.5" height="10.2" fill="#5a0505"/>
<text x="1.5" y="16.7">SOPEG_2700</text><rect x="30" y="10" width="11.5" height="10.2" fill="#000"/><rect x="41.5" y="10" width="11.5" height="10.2" fill="#5a0505"/>
<text x="1.5" y="26.7">SOPEG_3381</text><rect x="30" y="20" width="11.5" height="10.2" fill="#000"/><rect x="41.5" y="20" width="11.5" height="10.2" fill="#2f4f22"/>
<text x="1.5" y="36.7">SOPEG_3864</text><rect x="30" y="30" width="11.5" height="10.2" fill="#000"/><rect x="41.5" y="30" width="11.5" height="10.2" fill="#2f4f22"/>
<text x="1.5" y="46.7">SOPEG_1632</text><rect x="30" y="40" width="11.5" height="10.2" fill="#000"/><rect x="41.5" y="40" width="11.5" height="10.2" fill="#263f1d"/>
<text x="1.5" y="56.7">SOPEG_3862</text><rect x="30" y="50" width="11.5" height="10.2" fill="#000"/><rect x="41.5" y="50" width="11.5" height="10.2" fill="#263f1d"/>
<text x="1.5" y="66.7">SOPEG_2329</text><rect x="30" y="60" width="11.5" height="10" fill="#000"/><rect x="41.5" y="60" width="11.5" height="10" fill="#151f10"/>
</g>
</svg>
